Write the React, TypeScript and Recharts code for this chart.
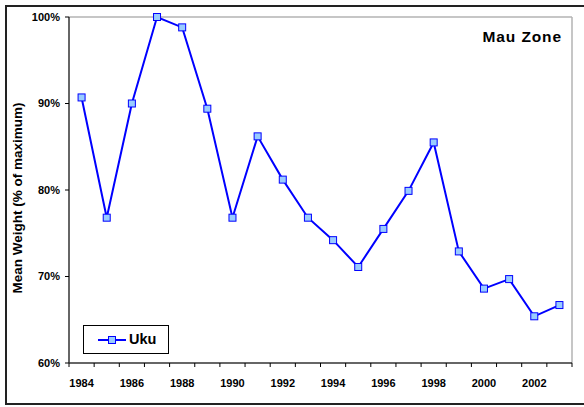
import React from 'react';
import { LineChart, Line, XAxis, YAxis, ReferenceLine, Legend } from 'recharts';

const years = [1984, 1985, 1986, 1987, 1988, 1989, 1990, 1991, 1992, 1993, 1994, 1995, 1996, 1997, 1998, 1999, 2000, 2001, 2002, 2003];
const ukuWeights = [90.7, 76.8, 90.0, 100.0, 98.8, 89.4, 76.8, 86.2, 81.2, 76.8, 74.2, 71.1, 75.5, 79.9, 85.5, 72.9, 68.6, 69.7, 65.4, 66.7];
const yTicks = [60, 70, 80, 90, 100];
const xLabelTicks = [1984, 1986, 1988, 1990, 1992, 1994, 1996, 1998, 2000, 2002];
const seriesName = 'Uku';
const chartTitle = 'Mau Zone';
const yAxisTitle = 'Mean Weight (% of maximum)';

const data = years.map((year, i) => ({ year, uku: ukuWeights[i] }));
const boundaries = [...years.map((y) => y - 0.5), years[years.length - 1] + 0.5];
const xDomain = [boundaries[0], boundaries[boundaries.length - 1]];

const FONT = '"Liberation Sans", Arial, Helvetica, sans-serif';
const BLUE = '#0000FF';
const MARKER_FILL = '#99CCFF';

const SquareDot = (props: any) => {
  const { cx, cy } = props;
  if (cx == null || cy == null) return null;
  return <rect x={cx - 3.5} y={cy - 3.5} width={7} height={7} fill={MARKER_FILL} stroke={BLUE} strokeWidth={1} />;
};

const renderLegend = (props: any) => {
  const entry = props.payload && props.payload[0];
  return (
    <div
      style={{
        width: 86,
        height: 29,
        border: '1px solid #000',
        background: '#fff',
        display: 'flex',
        alignItems: 'center',
        boxSizing: 'border-box',
      }}
    >
      <svg width={28} height={10} style={{ marginLeft: 14, display: 'block' }}>
        <line x1={0} y1={5} x2={28} y2={5} stroke={BLUE} strokeWidth={2} />
        <rect x={10.5} y={1.5} width={7} height={7} fill={MARKER_FILL} stroke={BLUE} strokeWidth={1} />
      </svg>
      <span style={{ marginLeft: 3, fontFamily: FONT, fontWeight: 'bold', fontSize: 14.5, color: '#000', lineHeight: '15px' }}>
        {entry ? entry.value : seriesName}
      </span>
    </div>
  );
};

export default function App() {
  return (
    <div style={{ position: 'absolute', left: 0, top: 0, width: 584, height: 407, background: '#fff', overflow: 'hidden' }}>
      <div
        style={{
          position: 'absolute',
          left: 5,
          top: 5,
          width: 620,
          height: 400,
          border: '2px solid #222',
          boxSizing: 'border-box',
        }}
      />
      <div
        style={{
          position: 'absolute',
          right: 22,
          top: 28,
          fontFamily: FONT,
          fontWeight: 'bold',
          fontSize: 15.5,
          letterSpacing: 0.9,
          color: '#000',
          lineHeight: '18px',
        }}
      >
        {chartTitle}
      </div>
      <div style={{ position: 'absolute', left: 0, top: 0 }}>
        <LineChart width={584} height={407} data={data} margin={{ top: 17, right: 12, bottom: 0, left: 0 }}>
          <XAxis
            xAxisId="aMarks"
            dataKey="year"
            type="number"
            domain={xDomain}
            ticks={boundaries}
            interval={0}
            tickFormatter={() => ''}
            tickSize={4}
            tickMargin={0}
            height={4}
            allowDataOverflow
            axisLine={{ stroke: '#333', strokeWidth: 1.5 }}
            tickLine={{ stroke: '#000', strokeWidth: 1 }}
          />
          <XAxis
            xAxisId="bLabels"
            dataKey="year"
            type="number"
            domain={xDomain}
            ticks={xLabelTicks}
            interval={0}
            allowDataOverflow
            tickLine={false}
            axisLine={false}
            tickSize={0}
            tickMargin={12}
            height={40}
            tick={{ fill: '#000', fontSize: 11, fontWeight: 'bold', fontFamily: FONT }}
          />
          <YAxis
            domain={[60, 100]}
            ticks={yTicks}
            interval={0}
            tickFormatter={(v: number) => `${v}%`}
            width={69}
            tickSize={4}
            tickMargin={5}
            axisLine={{ stroke: '#333', strokeWidth: 1.5 }}
            tickLine={{ stroke: '#000', strokeWidth: 1 }}
            tick={{ fill: '#000', fontSize: 11, fontWeight: 'bold', fontFamily: FONT }}
            label={{
              content: () => (
                <text
                  transform="translate(22,198) rotate(-90)"
                  x={0}
                  y={0}
                  textAnchor="middle"
                  fontFamily={FONT}
                  fontWeight="bold"
                  fontSize={13.5}
                  fill="#000"
                >
                  {yAxisTitle}
                </text>
              ),
            }}
          />
          <ReferenceLine xAxisId="bLabels" y={100} stroke="#b3b3b3" strokeWidth={1.5} />
          <ReferenceLine xAxisId="bLabels" x={xDomain[1]} stroke="#b3b3b3" strokeWidth={1.5} />
          <Legend
            layout="horizontal"
            verticalAlign="middle"
            align="center"
            content={renderLegend}
            wrapperStyle={{ position: 'absolute', left: 83, top: 325, width: 86, height: 29 }}
          />
          <Line
            xAxisId="bLabels"
            dataKey="uku"
            name={seriesName}
            stroke={BLUE}
            strokeWidth={2}
            dot={<SquareDot />}
            activeDot={false}
            isAnimationActive={false}
          />
        </LineChart>
      </div>
    </div>
  );
}
